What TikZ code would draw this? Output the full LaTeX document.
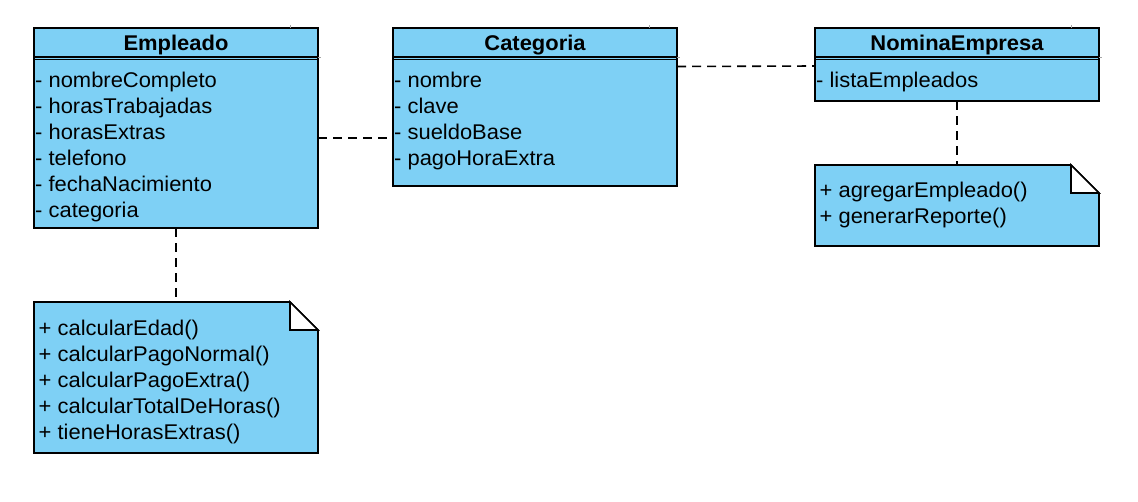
\documentclass[tikz,border=0pt]{standalone}
\usepackage{fontspec}
\setmainfont{Liberation Sans}[FakeStretch=1.03]
\definecolor{umlblue}{RGB}{126,208,245}
\begin{document}
\begin{tikzpicture}[x=1pt,y=-1pt,
  box/.style={draw=black, line width=1.6pt, fill=umlblue, inner sep=0pt, outer sep=0pt, anchor=north west},
  ghost/.style={inner sep=0pt, outer sep=0pt, anchor=north west},
  notebody/.style={draw=black, line width=1.6pt, fill=umlblue, line join=miter},
  fold/.style={draw=black, line width=1.6pt, fill=white, line join=miter},
  sepline/.style={draw=black, line width=1.5pt},
  tick/.style={draw=gray!70, line width=0.7pt},
  txt/.style={anchor=base west, inner sep=0pt, font=\fontsize{21.3}{26}\selectfont},
  ttl/.style={anchor=base, inner sep=0pt, font=\bfseries\fontsize{21.3}{26}\selectfont},
  link/.style={draw=black, line width=1.6pt, dash pattern=on 9pt off 6pt}]
\path[use as bounding box] (0,0) rectangle (1138,501);

% ---------- Empleado ----------
\node[box, minimum width=284pt, minimum height=200pt] (emp) at (34,28) {};
\draw[sepline] (34,57) -- (318,57);
\draw[sepline] (34,59.3) -- (318,59.3);
\draw[tick] (290,25) -- (290,28);
\draw[tick] (318,57) -- (321,57);
\node[ttl] (empT) at (176,50) {Empleado};
\node[txt] (e1) at (35,87) {- nombreCompleto};
\node[txt] (e2) at (35,113) {- horasTrabajadas};
\node[txt] (e3) at (35,139) {- horasExtras};
\node[txt] (e4) at (35,165) {- telefono};
\node[txt] (e5) at (35,191) {- fechaNacimiento};
\node[txt] (e6) at (35,217) {- categoria};

% ---------- Categoria ----------
\node[box, minimum width=284pt, minimum height=158pt] (cat) at (393,28) {};
\draw[sepline] (393,57) -- (677,57);
\draw[sepline] (393,59.3) -- (677,59.3);
\draw[tick] (649,25) -- (649,28);
\draw[tick] (677,57) -- (680,57);
\node[ttl] (catT) at (535,50) {Categoria};
\node[txt] (c1) at (394,87) {- nombre};
\node[txt] (c2) at (394,113) {- clave};
\node[txt] (c3) at (394,139) {- sueldoBase};
\node[txt] (c4) at (394,165) {- pagoHoraExtra};

% ---------- NominaEmpresa ----------
\node[box, minimum width=284pt, minimum height=73pt] (nom) at (815,28) {};
\draw[sepline] (815,57) -- (1099,57);
\draw[sepline] (815,59.3) -- (1099,59.3);
\draw[tick] (1071,25) -- (1071,28);
\draw[tick] (1099,57) -- (1102,57);
\node[ttl] (nomT) at (957,50) {NominaEmpresa};
\node[txt] (m1) at (816,87) {- listaEmpleados};

% ---------- Note for Empleado ----------
\node[ghost, minimum width=284pt, minimum height=151pt] (n1) at (34,302) {};
\path[notebody] (n1.north west) -- ([xshift=-28pt]n1.north east) -- ([yshift=-28pt]n1.north east)
  -- (n1.south east) -- (n1.south west) -- cycle;
\path[fold] ([xshift=-28pt]n1.north east) -- ([xshift=-28pt,yshift=-28pt]n1.north east)
  -- ([yshift=-28pt]n1.north east) -- cycle;
\node[txt] (p1) at (38.5,335) {+ calcularEdad()};
\node[txt] (p2) at (38.5,361) {+ calcularPagoNormal()};
\node[txt] (p3) at (38.5,387) {+ calcularPagoExtra()};
\node[txt] (p4) at (38.5,413) {+ calcularTotalDeHoras()};
\node[txt] (p5) at (38.5,439) {+ tieneHorasExtras()};

% ---------- Note for NominaEmpresa ----------
\node[ghost, minimum width=284pt, minimum height=81pt] (n2) at (815,165) {};
\path[notebody] (n2.north west) -- ([xshift=-28pt]n2.north east) -- ([yshift=-28pt]n2.north east)
  -- (n2.south east) -- (n2.south west) -- cycle;
\path[fold] ([xshift=-28pt]n2.north east) -- ([xshift=-28pt,yshift=-28pt]n2.north east)
  -- ([yshift=-28pt]n2.north east) -- cycle;
\node[txt] (q1) at (819.5,197) {+ agregarEmpleado()};
\node[txt] (q2) at (819.5,223) {+ generarReporte()};

% ---------- Connectors ----------
\draw[link] ([yshift=-10pt]emp.east) -- ([yshift=-10pt]emp.east -| cat.west);
\draw[link] ([yshift=-2pt]nom.west -| cat.east) -- ([yshift=-1.5pt]nom.west);
\draw[link] (emp.south) -- (n1.north);
\draw[link] (nom.south) -- (n2.north);
\end{tikzpicture}
\end{document}
